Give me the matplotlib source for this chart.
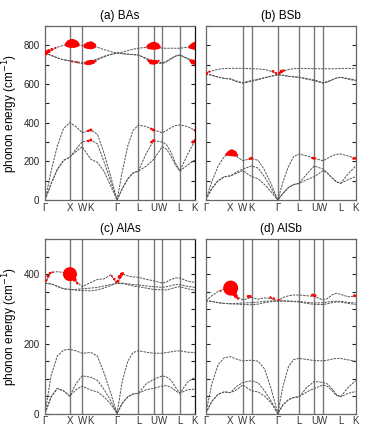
import matplotlib
matplotlib.use("Agg")
import matplotlib.pyplot as plt
from matplotlib.ticker import MultipleLocator

plt.rcParams['font.family'] = ['Liberation Sans', 'DejaVu Sans']

# high-symmetry path (cumulative path length, 2pi/a units)
kpath_pos = [0, 1.0, 1.5, 1.854, 2.914, 3.780, 4.393, 4.746, 5.453, 6.066]
kpath_lab = ['Γ', 'X', 'W', 'K', 'Γ', 'L', 'U', 'W', 'L', 'K']

# k grid at which band energies were read
kgrid = [0, 0.25, 0.5, 0.75, 1.0, 1.25, 1.5, 1.854, 2.12, 2.38, 2.65, 2.914,
         3.13, 3.35, 3.56, 3.78, 4.09, 4.393, 4.746, 4.92, 5.1, 5.28, 5.453, 5.76, 6.066]

# ---------- (a) BAs ----------
bas_a1 = [0, 150, 280, 370, 400, 380, 348, 362, 340, 245, 125, 0, 150, 280, 360, 388, 380, 362, 348, 360, 375, 385, 388, 380, 360]
bas_a2 = [0, 85, 158, 205, 221, 262, 300, 310, 290, 200, 100, 0, 60, 110, 140, 150, 240, 307, 300, 285, 245, 190, 150, 235, 307]
bas_a3 = [0, 85, 158, 205, 221, 250, 276, 210, 195, 150, 75, 0, 60, 110, 140, 150, 175, 210, 276, 262, 225, 180, 150, 180, 207]
bas_o1 = [760, 775, 790, 800, 805, 802, 800, 798, 790, 778, 768, 760, 765, 773, 780, 785, 790, 795, 785, 785, 785, 785, 785, 790, 795]
bas_o2 = [760, 748, 735, 725, 720, 712, 705, 712, 725, 740, 752, 760, 757, 754, 752, 750, 730, 712, 705, 715, 730, 743, 750, 730, 712]
bas_o3 = [760, 748, 735, 725, 720, 716, 710, 718, 730, 743, 753, 760, 757, 754, 752, 750, 733, 716, 710, 718, 733, 745, 750, 733, 716]
bas_red_k = [0.03, 0.15, 0.28, 0.42, 0.9, 1.0, 1.1, 1.2, 1.3, 1.65, 1.75, 1.85, 1.95,
             1.1, 1.3, 1.65, 1.75, 1.85, 1.95, 2.05, 4.2, 4.3, 4.4, 4.5, 4.6,
             4.2, 4.3, 4.4, 4.5, 4.6, 5.88, 5.97, 6.06, 5.9, 5.98, 6.06,
             1.75, 1.85, 1.75, 1.85, 4.3, 4.39, 4.3, 4.39, 5.98, 6.06, 6.06]
bas_red_e = [761, 770, 779, 787, 804, 808, 810, 808, 804, 797, 799, 800, 798,
             716, 712, 707, 710, 712, 714, 718, 793, 796, 798, 796, 792,
             720, 714, 712, 714, 720, 792, 795, 797, 720, 714, 712,
             358, 362, 305, 310, 368, 362, 300, 307, 300, 307, 360]
bas_red_d = [5, 4, 3, 2, 5, 8, 9, 8, 5, 5, 7, 8, 6,
             2, 2, 3, 5, 5, 4, 2, 5, 7, 8, 7, 4,
             3, 5, 5, 4, 2, 4, 6, 8, 3, 5, 5,
             2.5, 3, 2.5, 3, 2.5, 3, 2.5, 3, 3, 3, 2.5]

# ---------- (b) BSb ----------
bsb_a1 = [0, 95, 175, 225, 241, 225, 203, 215, 205, 155, 82, 0, 95, 175, 225, 238, 228, 215, 203, 215, 228, 236, 238, 228, 215]
bsb_a2 = [0, 60, 100, 120, 125, 145, 160, 176, 165, 120, 60, 0, 35, 65, 80, 86, 135, 176, 160, 140, 115, 95, 86, 135, 176]
bsb_a3 = [0, 60, 100, 120, 125, 138, 152, 121, 110, 80, 42, 0, 35, 65, 80, 86, 105, 121, 152, 140, 115, 95, 86, 105, 121]
bsb_o1 = [652, 668, 676, 680, 681, 681, 681, 679, 678, 675, 666, 648, 666, 675, 679, 681, 680, 679, 679, 679, 678, 679, 680, 681, 681]
bsb_o2 = [652, 645, 636, 629, 626, 615, 607, 618, 625, 633, 641, 648, 645, 640, 637, 635, 628, 621, 607, 612, 622, 631, 635, 628, 621]
bsb_o3 = [652, 645, 636, 629, 626, 612, 604, 614, 622, 631, 640, 648, 645, 640, 637, 635, 625, 617, 604, 610, 620, 630, 635, 625, 617]
bsb_red_k = [0.85, 0.95, 1.05, 1.15, 1.25, 1.78, 1.85, 4.32, 4.39, 5.98, 6.06,
             0.04, 0.14, 2.72, 2.84, 2.98, 3.06, 3.15]
bsb_red_e = [236, 241, 244, 240, 232, 213, 216, 217, 216, 214, 216,
             656, 664, 666, 656, 656, 665, 670]
bsb_red_d = [3, 5, 7, 6, 3, 2.5, 3, 2.5, 3, 2.5, 3,
             3, 2, 2.5, 2.5, 2.5, 3.5, 2.5]

# ---------- (c) AlAs ----------
alas_a1 = [0, 110, 165, 182, 184, 180, 173, 175, 165, 118, 60, 0, 95, 150, 175, 180, 176, 173, 173, 175, 177, 179, 180, 176, 175]
alas_a2 = [0, 48, 72, 65, 50, 85, 108, 104, 95, 70, 38, 0, 30, 48, 56, 58, 85, 98, 108, 105, 95, 75, 58, 90, 104]
alas_a3 = [0, 48, 72, 65, 50, 68, 79, 67, 62, 48, 28, 0, 30, 48, 56, 58, 68, 72, 79, 80, 75, 65, 58, 68, 70]
alas_o1 = [374, 405, 407, 405, 400, 380, 364, 376, 385, 386, 398, 374, 400, 395, 392, 391, 385, 381, 374, 378, 385, 389, 389, 380, 376]
alas_o2 = [374, 372, 365, 358, 356, 356, 358, 360, 362, 366, 370, 374, 374, 372, 370, 369, 366, 364, 362, 364, 367, 370, 370, 365, 362]
alas_o3 = [374, 372, 365, 358, 356, 354, 353, 352, 355, 360, 367, 374, 373, 370, 366, 364, 360, 356, 355, 355, 358, 362, 364, 358, 354]
alas_red_k = [1.01, 1.12, 1.2, 1.3, 0.05, 0.12, 0.2, 0.3, 2.7, 2.8, 2.87, 2.95, 3.02, 3.1, 3.16]
alas_red_e = [400, 392, 384, 374, 382, 394, 403, 405, 395, 386, 378, 380, 392, 400, 403]
alas_red_d = [14, 6, 4, 2.5, 2.5, 3, 2.5, 2, 2, 2.5, 2, 3, 4, 3.5, 2]

# ---------- (d) AlSb ----------
alsb_a1 = [0, 85, 140, 160, 163, 156, 151, 153, 150, 128, 70, 0, 80, 135, 155, 158, 155, 152, 151, 153, 156, 158, 158, 154, 150]
alsb_a2 = [0, 35, 55, 62, 60, 78, 89, 94, 88, 65, 35, 0, 25, 40, 46, 48, 75, 92, 89, 85, 72, 55, 48, 75, 94]
alsb_a3 = [0, 35, 55, 62, 60, 68, 82, 65, 62, 50, 30, 0, 25, 40, 46, 48, 62, 72, 82, 78, 66, 52, 48, 58, 63]
alsb_o1 = [323, 338, 350, 358, 360, 335, 326, 333, 328, 332, 330, 323, 333, 338, 340, 340, 338, 336, 326, 330, 340, 345, 342, 335, 337]
alsb_o2 = [323, 322, 318, 316, 315, 316, 317, 318, 320, 322, 323, 323, 323, 323, 322, 322, 319, 317, 318, 320, 322, 322, 322, 319, 317]
alsb_o3 = [323, 322, 318, 316, 315, 314, 313, 312, 314, 318, 321, 323, 323, 322, 321, 320, 316, 313, 313, 315, 318, 320, 320, 316, 313]
alsb_red_k = [1.01, 1.14, 1.22, 1.3, 0.6, 1.72, 1.8, 2.62, 2.75, 2.95, 4.32, 4.42, 6.02]
alsb_red_e = [360, 346, 337, 330, 352, 336, 336, 333, 330, 326, 340, 338, 338]
alsb_red_d = [15, 6, 4, 2.5, 2, 3, 3, 2.5, 2.5, 2.5, 3, 3, 3]

panels = [
    dict(title='(a) BAs', bands=[bas_a1, bas_a2, bas_a3, bas_o1, bas_o2, bas_o3],
         rk=bas_red_k, re=bas_red_e, rd=bas_red_d, ymax=900, minor=100, vl=[1, 2, 5, 6, 7, 8]),
    dict(title='(b) BSb', bands=[bsb_a1, bsb_a2, bsb_a3, bsb_o1, bsb_o2, bsb_o3],
         rk=bsb_red_k, re=bsb_red_e, rd=bsb_red_d, ymax=900, minor=100, vl=[2, 3, 4, 5, 6, 7]),
    dict(title='(c) AlAs', bands=[alas_a1, alas_a2, alas_a3, alas_o1, alas_o2, alas_o3],
         rk=alas_red_k, re=alas_red_e, rd=alas_red_d, ymax=500, minor=50, vl=[1, 2, 5, 6, 7, 8]),
    dict(title='(d) AlSb', bands=[alsb_a1, alsb_a2, alsb_a3, alsb_o1, alsb_o2, alsb_o3],
         rk=alsb_red_k, re=alsb_red_e, rd=alsb_red_d, ymax=500, minor=50, vl=[2, 3, 4, 5, 6, 7]),
]

W, H, DPI = 3.74, 4.36, 100
fig = plt.figure(figsize=(W, H), dpi=DPI)
boxes = [
    [45 / 374, 1 - 200 / 436, 150 / 374, 174 / 436],
    [205.7 / 374, 1 - 200 / 436, 150 / 374, 174 / 436],
    [45 / 374, 1 - 413.5 / 436, 150 / 374, 174.2 / 436],
    [205.7 / 374, 1 - 413.5 / 436, 150 / 374, 174.2 / 436],
]

for i, (p, box) in enumerate(zip(panels, boxes)):
    ax = fig.add_axes(box)
    for j in p['vl']:
        ax.axvline(kpath_pos[j], color='#777777', lw=1.0, zorder=1)
    for b in p['bands']:
        ax.plot(kgrid, b, color='#555555', lw=0.7, ls=(0, (2.5, 1.0)), zorder=2)
    sizes = [(d * 72 / DPI) ** 2 for d in p['rd']]
    ax.scatter(p['rk'], p['re'], s=sizes, color='#ff0000', edgecolors='none', zorder=3)
    ax.set_xlim(kpath_pos[0], kpath_pos[-1])
    ax.set_ylim(0, p['ymax'])
    ax.set_xticks(kpath_pos)
    ax.set_xticklabels(kpath_lab)
    ax.tick_params(axis='x', length=0, pad=2, labelsize=7, colors='#333333')
    ax.yaxis.set_major_locator(MultipleLocator(200))
    ax.yaxis.set_minor_locator(MultipleLocator(p['minor']))
    ax.tick_params(axis='y', which='both', direction='in', length=3, width=0.8,
                   left=True, right=True, labelsize=7, pad=4, colors='#222222')
    if i % 2 == 1:
        ax.tick_params(axis='y', labelleft=False)
    else:
        ax.set_ylabel('phonon energy (cm$^{-1}$)', fontsize=8.5)
        ax.yaxis.set_label_coords(-0.165, 0.5)
    for s in ax.spines.values():
        s.set_color('#666666')
        s.set_linewidth(0.9)
    if i % 2 == 0:
        ax.spines['right'].set_color('#111111')
    ax.set_title(p['title'], fontsize=8.5, pad=5)

fig.savefig('out.png', dpi=DPI)
